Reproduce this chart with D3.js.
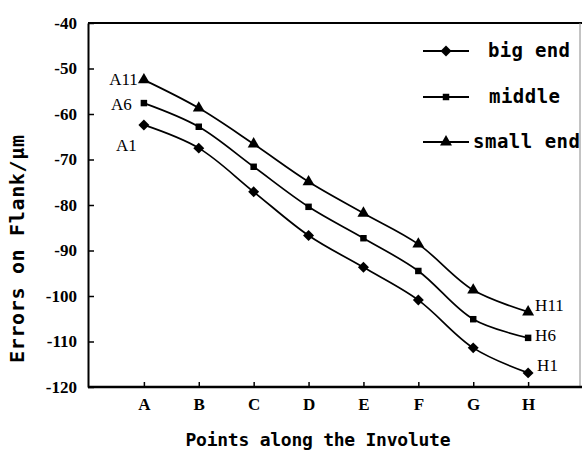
<!DOCTYPE html>
<html><head><meta charset="utf-8">
<script src="https://cdn.jsdelivr.net/npm/d3@7"></script>
<style>body{margin:0;background:#fff}svg{display:block}</style>
</head><body>
<svg id="c" width="582" height="457"></svg>
<script>
const categories = ["A","B","C","D","E","F","G","H"];
const bigEnd   = [-62.4, -67.5, -77.1, -86.7, -93.7, -100.9, -111.4, -116.9];
const middle   = [-57.6, -62.8, -71.6, -80.4, -87.3, -94.5, -105.1, -109.2];
const smallEnd = [-52.5, -58.7, -66.6, -74.9, -81.8, -88.6, -98.7, -103.5];
const seriesNames = ["big end","middle","small end"];
const yTicks = [-40,-50,-60,-70,-80,-90,-100,-110,-120];
const startLabels = ["A1","A6","A11"];
const endLabels = ["H1","H6","H11"];

const svg = d3.select("#c");
const L = 88, R = 582, T = 23, B = 387;
const x = d3.scalePoint().domain(categories).range([L+1, R+1]).padding(1);
const y = d3.scaleLinear().domain([-120,-40]).range([B, T]);

const serif = "Liberation Serif, Times New Roman, serif";
const mono = "DejaVu Sans Mono, Liberation Mono, monospace";

// frame: top and right
svg.append("line").attr("x1",L).attr("x2",R).attr("y1",T).attr("y2",T).attr("stroke","#000").attr("stroke-width",2);
svg.append("line").attr("x1",580).attr("x2",580).attr("y1",T).attr("y2",B).attr("stroke","#888").attr("stroke-width",1);

// y axis
const ya = svg.append("g").attr("transform",`translate(${L},0)`)
  .call(d3.axisLeft(y).tickValues(yTicks).tickFormat(d=>String(d)).tickSizeInner(-6).tickSizeOuter(0).tickPadding(11));
ya.attr("font-family",serif);
ya.select(".domain").attr("stroke-width",2);
ya.selectAll("line").attr("stroke-width",1.5);
ya.selectAll("text").attr("font-family",serif).attr("font-size",17).attr("font-weight","bold").attr("fill","#000");

// x axis
const xa = svg.append("g").attr("transform",`translate(0,${B})`)
  .call(d3.axisBottom(x).tickSizeInner(-5).tickSizeOuter(0).tickPadding(11));
xa.attr("font-family",serif);
xa.select(".domain").attr("d",`M${L},0H${R}`).attr("stroke-width",2.5);
xa.selectAll("line").attr("stroke-width",1.5);
xa.selectAll("text").attr("font-family",serif).attr("font-size",17).attr("font-weight","bold").attr("fill","#000");

// axis titles
svg.append("text").attr("x",318).attr("y",446).attr("text-anchor","middle")
  .attr("font-family",mono).attr("font-weight","bold").attr("font-size",18)
  .attr("textLength",265).attr("lengthAdjust","spacing").text("Points along the Involute");
svg.append("text").attr("transform","translate(24,249) rotate(-90)").attr("text-anchor","middle")
  .attr("font-family",mono).attr("font-weight","bold").attr("font-size",20)
  .attr("textLength",228).attr("lengthAdjust","spacing").text("Errors on Flank/\u03bcm");

const data = [bigEnd, middle, smallEnd];
const diamond = { draw(ctx, size){ const r = Math.sqrt(size/2); ctx.moveTo(0,-r); ctx.lineTo(r,0); ctx.lineTo(0,r); ctx.lineTo(-r,0); ctx.closePath(); } };
const shapes = [diamond, d3.symbolSquare, d3.symbolTriangle];
const sizes = [60, 42, 62];
const line = d3.line().x((d,i)=>x(categories[i])).y(d=>y(d)).curve(d3.curveCatmullRom.alpha(0.5));

data.forEach((vals,k)=>{
  svg.append("path").attr("d",line(vals)).attr("fill","none").attr("stroke","#000").attr("stroke-width",1.7);
  svg.selectAll(null).data(vals).join("path")
    .attr("transform",(d,i)=>`translate(${x(categories[i])},${y(d)})`)
    .attr("d",d3.symbol().type(shapes[k]).size(sizes[k])).attr("fill","#000");
});

// point labels
const lab = (t,xx,yy,anchor)=>svg.append("text").attr("x",xx).attr("y",yy).attr("text-anchor",anchor)
  .attr("font-family",serif).attr("font-size",17).attr("fill","#000").attr("dominant-baseline","middle").text(t);
const ax = x("A"), hx = x("H");
lab(startLabels[2], ax-6, y(smallEnd[0])+1, "end");
lab(startLabels[1], ax-12, y(middle[0])+3, "end");
lab(startLabels[0], ax-7, y(bigEnd[0])+22, "end");
lab(endLabels[2], hx+7, y(smallEnd[7])-5, "start");
lab(endLabels[1], hx+7, y(middle[7])-1, "start");
lab(endLabels[0], hx+9, y(bigEnd[7])-6, "start");

// legend
const legY = [51, 97, 142];
const legTextX = [488, 489, 473];
const legLen = [82, 71, 107];
seriesNames.forEach((n,k)=>{
  const g = svg.append("g");
  g.append("line").attr("x1",423).attr("x2",469).attr("y1",legY[k]).attr("y2",legY[k]).attr("stroke","#000").attr("stroke-width",2);
  g.append("path").attr("transform",`translate(446,${legY[k]})`).attr("d",d3.symbol().type(shapes[k]).size(sizes[k])).attr("fill","#000");
  g.append("text").attr("x",legTextX[k]).attr("y",legY[k]).attr("dominant-baseline","middle")
    .attr("font-family",mono).attr("font-weight","bold").attr("font-size",19)
    .attr("textLength",legLen[k]).attr("lengthAdjust","spacing").text(n);
});
</script>
</body></html>
